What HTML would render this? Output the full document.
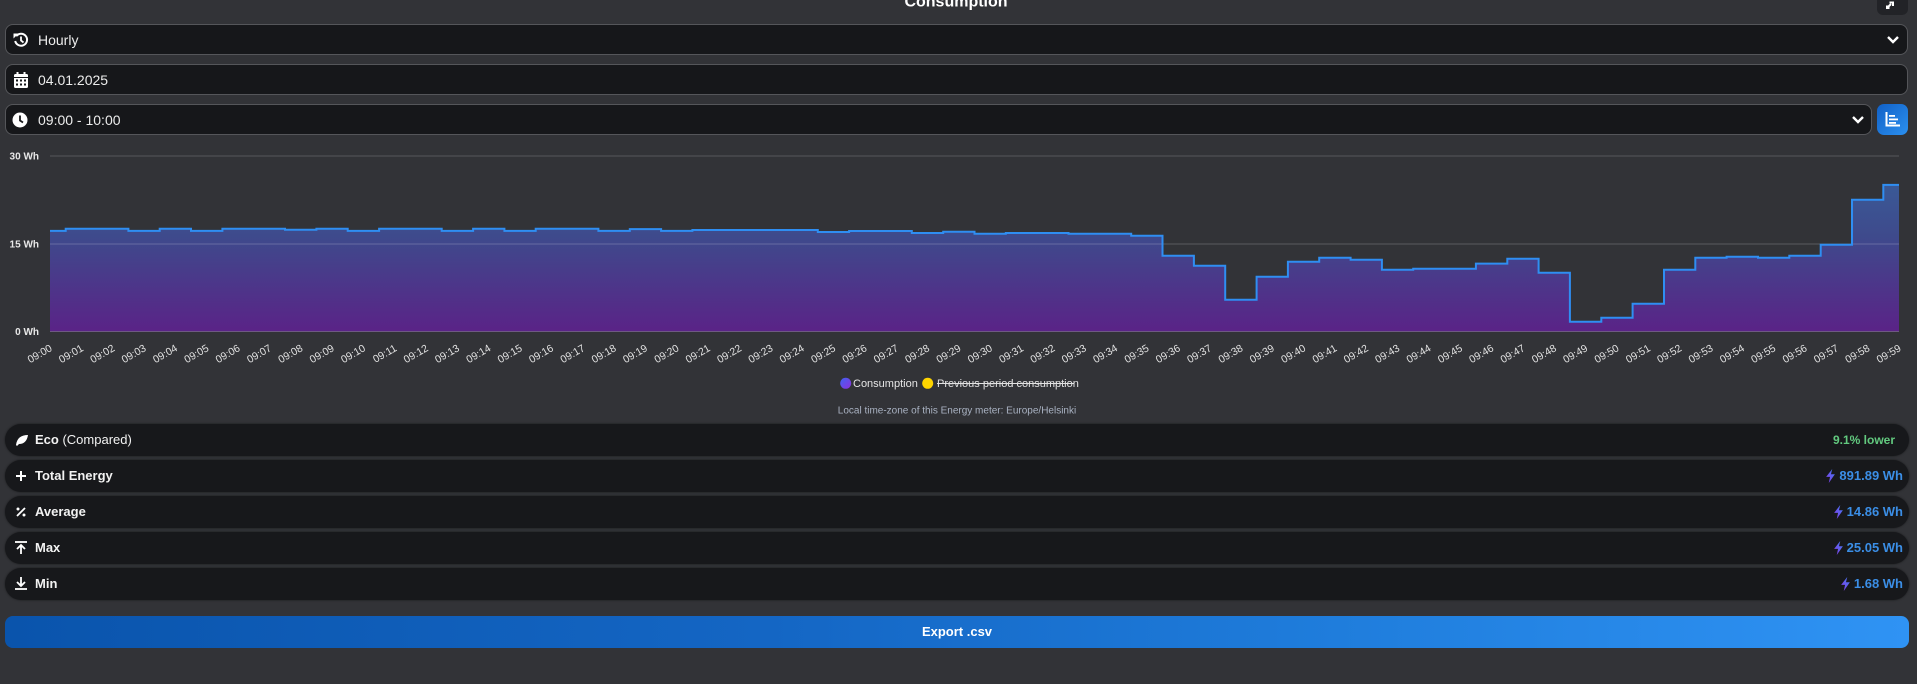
<!DOCTYPE html>
<html><head><meta charset="utf-8">
<style>
html,body{margin:0;padding:0;}
body{width:1917px;height:684px;background:#323337;position:relative;overflow:hidden;font-family:"Liberation Sans",Arial,sans-serif;color:#ececec;}
.dd{position:absolute;left:5px;height:30px;background:#16171a;border:1px solid #55565a;border-radius:8px;box-sizing:border-box;}
.dd .t{position:absolute;left:32px;top:7px;font-size:14px;color:#ececec;line-height:16px;}
.row{position:absolute;left:5px;width:1904px;height:32px;background:#17181b;border-radius:16px;box-shadow:0 0 2px rgba(0,0,0,.55);}
.row .l{position:absolute;left:30px;top:8px;font-size:13px;font-weight:bold;color:#f2f2f2;line-height:16px;}
.row .r{position:absolute;right:6px;top:8px;font-size:13px;font-weight:bold;color:#3b8ee6;line-height:16px;display:flex;align-items:center;}
.row .r svg{margin-right:4px;}
.btn{position:absolute;left:5px;top:616px;width:1904px;height:32px;border-radius:8px;background:linear-gradient(90deg,#0a54ac 0%,#1466c4 40%,#1f7ddc 70%,#2f93f4 100%);color:#fff;font-size:13px;font-weight:bold;text-align:center;line-height:32px;}
</style></head>
<body>

<!-- top right small button -->
<div style="position:absolute;left:1877px;top:-6px;width:31px;height:21px;background:#222327;border-radius:6px;"></div>

<!-- dropdown 1 -->
<div class="dd" style="top:24px;width:1903px;height:31px;">
  <svg style="position:absolute;left:7px;top:7px" width="16" height="16" viewBox="0 0 16 16">
    <path d="M3.2 4.2 A6 6 0 1 1 2.2 9" fill="none" stroke="#fff" stroke-width="2"/>
    <polygon points="0.5,1.5 5.5,1.5 0.5,6.5" fill="#fff"/>
    <path d="M8 4.5 V8.5 L10.5 10.5" fill="none" stroke="#fff" stroke-width="1.8"/>
  </svg>
  <div class="t">Hourly</div>
  <svg style="position:absolute;left:1880px;top:10px" width="14" height="10" viewBox="0 0 14 10"><path d="M2 2 L7 7 L12 2" fill="none" stroke="#fff" stroke-width="2.4"/></svg>
</div>

<!-- dropdown 2 -->
<div class="dd" style="top:64px;width:1903px;height:31px;">
  <svg style="position:absolute;left:8px;top:7px" width="14" height="16" viewBox="0 0 14 16">
    <rect x="2.5" y="0" width="2" height="3" fill="#fff"/><rect x="9.5" y="0" width="2" height="3" fill="#fff"/>
    <rect x="0" y="2" width="14" height="14" rx="1.5" fill="#fff"/>
    <rect x="0" y="5" width="14" height="1" fill="#16171a"/>
    <g fill="#16171a"><rect x="2" y="7.5" width="2" height="2"/><rect x="6" y="7.5" width="2" height="2"/><rect x="10" y="7.5" width="2" height="2"/><rect x="2" y="11.5" width="2" height="2"/><rect x="6" y="11.5" width="2" height="2"/><rect x="10" y="11.5" width="2" height="2"/></g>
  </svg>
  <div class="t">04.01.2025</div>
</div>

<!-- dropdown 3 -->
<div class="dd" style="top:104px;width:1867px;height:31px;">
  <svg style="position:absolute;left:6px;top:7px" width="16" height="16" viewBox="0 0 16 16">
    <circle cx="8" cy="8" r="7.5" fill="#fff"/>
    <path d="M8 3.5 V8.5 L11 10.5" fill="none" stroke="#16171a" stroke-width="1.8"/>
  </svg>
  <div class="t">09:00 - 10:00</div>
  <svg style="position:absolute;left:1845px;top:10px" width="14" height="10" viewBox="0 0 14 10"><path d="M2 2 L7 7 L12 2" fill="none" stroke="#fff" stroke-width="2.4"/></svg>
</div>

<!-- blue chart button -->
<div style="position:absolute;left:1877px;top:104px;width:31px;height:31px;border-radius:7px;background:linear-gradient(135deg,#1160c6,#2b90f0);">
  <svg style="position:absolute;left:8px;top:8px" width="15" height="15" viewBox="0 0 15 15">
    <path d="M1.5 0 V13.5 H15" fill="none" stroke="#fff" stroke-width="2"/>
    <rect x="4" y="3" width="6" height="1.8" fill="#fff"/>
    <rect x="4" y="6.5" width="9" height="1.8" fill="#fff"/>
    <rect x="4" y="10" width="7" height="1.8" fill="#fff"/>
  </svg>
</div>

<!-- main SVG: title + chart -->
<svg style="position:absolute;left:0;top:0" width="1917" height="684" viewBox="0 0 1917 684" font-family="Liberation Sans, Arial, sans-serif">
  <defs>
    <linearGradient id="ag" x1="0" y1="185" x2="0" y2="331.5" gradientUnits="userSpaceOnUse">
      <stop offset="0" stop-color="#3a5996"/>
      <stop offset="0.35" stop-color="#3e4a8c"/>
      <stop offset="1" stop-color="#5a2387"/>
    </linearGradient>
    <linearGradient id="lg" x1="0" y1="0" x2="1" y2="1">
      <stop offset="0" stop-color="#3f63f2"/>
      <stop offset="1" stop-color="#8e30dd"/>
    </linearGradient>
  </defs>
  <text x="956" y="6.5" text-anchor="middle" font-size="16" font-weight="bold" fill="#ffffff">Consumption</text>
  <!-- expand icon -->
  <path d="M1887 8 L1891 4 M1889.5 2.5 H1893 V6" fill="none" stroke="#fff" stroke-width="2"/>
  <rect x="1886" y="5.5" width="3.5" height="3.5" fill="#fff"/>

  <!-- gridlines -->
  <line x1="50" y1="156" x2="1899" y2="156" stroke="#56575b" stroke-width="1"/>

  <!-- area -->
  <path fill="url(#ag)" d="M50,230.9 H65.7 V228.7 H97.0 V228.7 H128.4 V230.9 H159.7 V228.7 H191.0 V230.9 H222.4 V228.7 H253.7 V228.7 H285.0 V229.7 H316.4 V228.7 H347.7 V230.9 H379.1 V228.7 H410.4 V228.7 H441.7 V230.9 H473.1 V228.7 H504.4 V230.9 H535.7 V228.7 H567.1 V228.7 H598.4 V230.9 H629.8 V229.1 H661.1 V230.9 H692.4 V230.0 H723.8 V230.0 H755.1 V230.0 H786.5 V230.0 H817.8 V232.0 H849.1 V231.0 H880.5 V231.0 H911.8 V233.0 H943.2 V231.7 H974.5 V233.7 H1005.8 V233.0 H1037.2 V233.0 H1068.5 V233.7 H1099.9 V233.7 H1131.2 V235.7 H1162.5 V255.7 H1193.9 V265.7 H1225.2 V299.7 H1256.6 V276.7 H1287.9 V261.7 H1319.2 V257.7 H1350.6 V259.7 H1381.9 V269.7 H1413.2 V268.7 H1444.6 V268.7 H1475.9 V263.6 H1507.3 V258.7 H1538.6 V272.7 H1569.9 V321.7 H1601.3 V317.7 H1632.6 V303.7 H1664.0 V269.7 H1695.3 V257.7 H1726.6 V256.7 H1758.0 V257.7 H1789.3 V255.7 H1820.7 V244.7 H1852.0 V199.7 H1883.3 V184.9 H1899 V331.5 H50 Z"/>

  <line x1="50" y1="244" x2="1899" y2="244" stroke="#ffffff" stroke-opacity="0.2" stroke-width="1"/>
  <line x1="50" y1="331.5" x2="1899" y2="331.5" stroke="#ffffff" stroke-opacity="0.22" stroke-width="1"/>

  <!-- line -->
  <path fill="none" stroke="#2f8ef2" stroke-width="2" d="M50,230.9 H65.7 V228.7 H97.0 V228.7 H128.4 V230.9 H159.7 V228.7 H191.0 V230.9 H222.4 V228.7 H253.7 V228.7 H285.0 V229.7 H316.4 V228.7 H347.7 V230.9 H379.1 V228.7 H410.4 V228.7 H441.7 V230.9 H473.1 V228.7 H504.4 V230.9 H535.7 V228.7 H567.1 V228.7 H598.4 V230.9 H629.8 V229.1 H661.1 V230.9 H692.4 V230.0 H723.8 V230.0 H755.1 V230.0 H786.5 V230.0 H817.8 V232.0 H849.1 V231.0 H880.5 V231.0 H911.8 V233.0 H943.2 V231.7 H974.5 V233.7 H1005.8 V233.0 H1037.2 V233.0 H1068.5 V233.7 H1099.9 V233.7 H1131.2 V235.7 H1162.5 V255.7 H1193.9 V265.7 H1225.2 V299.7 H1256.6 V276.7 H1287.9 V261.7 H1319.2 V257.7 H1350.6 V259.7 H1381.9 V269.7 H1413.2 V268.7 H1444.6 V268.7 H1475.9 V263.6 H1507.3 V258.7 H1538.6 V272.7 H1569.9 V321.7 H1601.3 V317.7 H1632.6 V303.7 H1664.0 V269.7 H1695.3 V257.7 H1726.6 V256.7 H1758.0 V257.7 H1789.3 V255.7 H1820.7 V244.7 H1852.0 V199.7 H1883.3 V184.9 H1899"/>

  <!-- y labels -->
  <g font-size="10" font-weight="bold" fill="#e8e8e8" text-anchor="end">
    <text x="39" y="159.5">30 Wh</text>
    <text x="39" y="247.5">15 Wh</text>
    <text x="39" y="335">0 Wh</text>
  </g>

  <!-- x labels -->
  <g font-size="10.5" fill="#e2e2e2" text-anchor="end">
    <text transform="translate(51,347) rotate(-30)" dy="0.35em">09:00</text>
    <text transform="translate(82.3,347) rotate(-30)" dy="0.35em">09:01</text>
    <text transform="translate(113.7,347) rotate(-30)" dy="0.35em">09:02</text>
    <text transform="translate(145,347) rotate(-30)" dy="0.35em">09:03</text>
    <text transform="translate(176.4,347) rotate(-30)" dy="0.35em">09:04</text>
    <text transform="translate(207.7,347) rotate(-30)" dy="0.35em">09:05</text>
    <text transform="translate(239,347) rotate(-30)" dy="0.35em">09:06</text>
    <text transform="translate(270.4,347) rotate(-30)" dy="0.35em">09:07</text>
    <text transform="translate(301.7,347) rotate(-30)" dy="0.35em">09:08</text>
    <text transform="translate(333.1,347) rotate(-30)" dy="0.35em">09:09</text>
    <text transform="translate(364.4,347) rotate(-30)" dy="0.35em">09:10</text>
    <text transform="translate(395.7,347) rotate(-30)" dy="0.35em">09:11</text>
    <text transform="translate(427.1,347) rotate(-30)" dy="0.35em">09:12</text>
    <text transform="translate(458.4,347) rotate(-30)" dy="0.35em">09:13</text>
    <text transform="translate(489.7,347) rotate(-30)" dy="0.35em">09:14</text>
    <text transform="translate(521.1,347) rotate(-30)" dy="0.35em">09:15</text>
    <text transform="translate(552.4,347) rotate(-30)" dy="0.35em">09:16</text>
    <text transform="translate(583.8,347) rotate(-30)" dy="0.35em">09:17</text>
    <text transform="translate(615.1,347) rotate(-30)" dy="0.35em">09:18</text>
    <text transform="translate(646.4,347) rotate(-30)" dy="0.35em">09:19</text>
    <text transform="translate(677.8,347) rotate(-30)" dy="0.35em">09:20</text>
    <text transform="translate(709.1,347) rotate(-30)" dy="0.35em">09:21</text>
    <text transform="translate(740.5,347) rotate(-30)" dy="0.35em">09:22</text>
    <text transform="translate(771.8,347) rotate(-30)" dy="0.35em">09:23</text>
    <text transform="translate(803.1,347) rotate(-30)" dy="0.35em">09:24</text>
    <text transform="translate(834.5,347) rotate(-30)" dy="0.35em">09:25</text>
    <text transform="translate(865.8,347) rotate(-30)" dy="0.35em">09:26</text>
    <text transform="translate(897.2,347) rotate(-30)" dy="0.35em">09:27</text>
    <text transform="translate(928.5,347) rotate(-30)" dy="0.35em">09:28</text>
    <text transform="translate(959.8,347) rotate(-30)" dy="0.35em">09:29</text>
    <text transform="translate(991.2,347) rotate(-30)" dy="0.35em">09:30</text>
    <text transform="translate(1022.5,347) rotate(-30)" dy="0.35em">09:31</text>
    <text transform="translate(1053.8,347) rotate(-30)" dy="0.35em">09:32</text>
    <text transform="translate(1085.2,347) rotate(-30)" dy="0.35em">09:33</text>
    <text transform="translate(1116.5,347) rotate(-30)" dy="0.35em">09:34</text>
    <text transform="translate(1147.9,347) rotate(-30)" dy="0.35em">09:35</text>
    <text transform="translate(1179.2,347) rotate(-30)" dy="0.35em">09:36</text>
    <text transform="translate(1210.5,347) rotate(-30)" dy="0.35em">09:37</text>
    <text transform="translate(1241.9,347) rotate(-30)" dy="0.35em">09:38</text>
    <text transform="translate(1273.2,347) rotate(-30)" dy="0.35em">09:39</text>
    <text transform="translate(1304.6,347) rotate(-30)" dy="0.35em">09:40</text>
    <text transform="translate(1335.9,347) rotate(-30)" dy="0.35em">09:41</text>
    <text transform="translate(1367.2,347) rotate(-30)" dy="0.35em">09:42</text>
    <text transform="translate(1398.6,347) rotate(-30)" dy="0.35em">09:43</text>
    <text transform="translate(1429.9,347) rotate(-30)" dy="0.35em">09:44</text>
    <text transform="translate(1461.3,347) rotate(-30)" dy="0.35em">09:45</text>
    <text transform="translate(1492.6,347) rotate(-30)" dy="0.35em">09:46</text>
    <text transform="translate(1523.9,347) rotate(-30)" dy="0.35em">09:47</text>
    <text transform="translate(1555.3,347) rotate(-30)" dy="0.35em">09:48</text>
    <text transform="translate(1586.6,347) rotate(-30)" dy="0.35em">09:49</text>
    <text transform="translate(1617.9,347) rotate(-30)" dy="0.35em">09:50</text>
    <text transform="translate(1649.3,347) rotate(-30)" dy="0.35em">09:51</text>
    <text transform="translate(1680.6,347) rotate(-30)" dy="0.35em">09:52</text>
    <text transform="translate(1712,347) rotate(-30)" dy="0.35em">09:53</text>
    <text transform="translate(1743.3,347) rotate(-30)" dy="0.35em">09:54</text>
    <text transform="translate(1774.6,347) rotate(-30)" dy="0.35em">09:55</text>
    <text transform="translate(1806,347) rotate(-30)" dy="0.35em">09:56</text>
    <text transform="translate(1837.3,347) rotate(-30)" dy="0.35em">09:57</text>
    <text transform="translate(1868.7,347) rotate(-30)" dy="0.35em">09:58</text>
    <text transform="translate(1900,347) rotate(-30)" dy="0.35em">09:59</text>
  </g>

  <!-- legend -->
  <circle cx="845.7" cy="383.3" r="5.5" fill="url(#lg)"/>
  <text x="853" y="387" font-size="11" fill="#e6e6e6">Consumption</text>
  <circle cx="927.7" cy="383.3" r="5.5" fill="#ffd500"/>
  <text x="937" y="387" font-size="11" fill="#e2e2e2">Previous period consumption</text>
  <line x1="937" y1="383.5" x2="1074" y2="383.5" stroke="#e2e2e2" stroke-width="1"/>
  <text x="957" y="413.5" text-anchor="middle" font-size="10" fill="#a9b2c2">Local time-zone of this Energy meter: Europe/Helsinki</text>
</svg>

<!-- stats rows -->
<div class="row" style="top:424px;">
  <svg style="position:absolute;left:10px;top:10px" width="13" height="12" viewBox="0 0 13 12"><path d="M1 11 C2 4 6 1 13 1 C12 7 9 10 4 10 L2 12 Z" fill="#fff"/></svg>
  <div class="l">Eco <span style="font-weight:normal">(Compared)</span></div>
  <div class="r" style="right:14px;color:#62c97f;font-size:12px;">9.1% lower</div>
</div>
<div class="row" style="top:460px;">
  <svg style="position:absolute;left:11px;top:11px" width="10" height="10" viewBox="0 0 10 10"><path d="M5 0 V10 M0 5 H10" stroke="#fff" stroke-width="2"/></svg>
  <div class="l">Total Energy</div>
  <div class="r"><svg width="9" height="14" viewBox="0 0 10 16"><polygon points="7,0 0,9 4.5,9 3,16 10,6 5.5,6" fill="url(#bolt)"/><defs><linearGradient id="bolt" x1="1" y1="0" x2="0" y2="1"><stop offset="0" stop-color="#3f7ff5"/><stop offset="1" stop-color="#8a36e6"/></linearGradient></defs></svg>891.89 Wh</div>
</div>
<div class="row" style="top:496px;">
  <svg style="position:absolute;left:11px;top:11px" width="10" height="10" viewBox="0 0 10 10"><path d="M9 1 L1 9" stroke="#fff" stroke-width="1.8"/><circle cx="2" cy="2" r="1.5" fill="#fff"/><circle cx="8" cy="8" r="1.5" fill="#fff"/></svg>
  <div class="l">Average</div>
  <div class="r"><svg width="9" height="14" viewBox="0 0 10 16"><polygon points="7,0 0,9 4.5,9 3,16 10,6 5.5,6" fill="url(#bolt)"/></svg>14.86 Wh</div>
</div>
<div class="row" style="top:532px;">
  <svg style="position:absolute;left:10px;top:9px" width="12" height="13" viewBox="0 0 12 13"><path d="M0 1 H12" stroke="#fff" stroke-width="1.8"/><path d="M6 13 V4 M2 8 L6 4 L10 8" fill="none" stroke="#fff" stroke-width="1.8"/></svg>
  <div class="l">Max</div>
  <div class="r"><svg width="9" height="14" viewBox="0 0 10 16"><polygon points="7,0 0,9 4.5,9 3,16 10,6 5.5,6" fill="url(#bolt)"/></svg>25.05 Wh</div>
</div>
<div class="row" style="top:568px;">
  <svg style="position:absolute;left:10px;top:9px" width="12" height="13" viewBox="0 0 12 13"><path d="M0 12 H12" stroke="#fff" stroke-width="1.8"/><path d="M6 0 V9 M2 5 L6 9 L10 5" fill="none" stroke="#fff" stroke-width="1.8"/></svg>
  <div class="l">Min</div>
  <div class="r"><svg width="9" height="14" viewBox="0 0 10 16"><polygon points="7,0 0,9 4.5,9 3,16 10,6 5.5,6" fill="url(#bolt)"/></svg>1.68 Wh</div>
</div>

<div class="btn">Export .csv</div>

</body></html>
